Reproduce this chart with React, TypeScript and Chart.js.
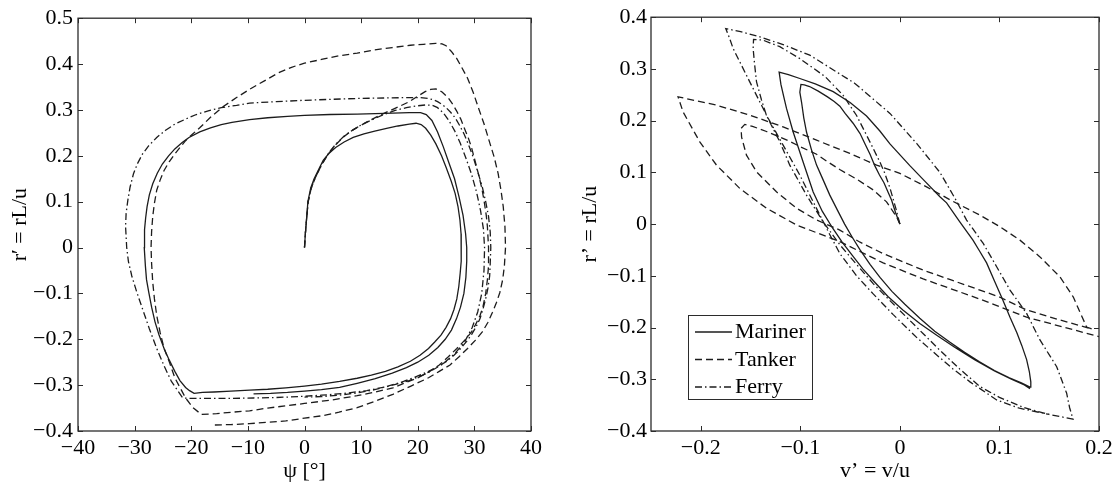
import React, { useEffect, useRef } from "react";
import { Chart, registerables } from "chart.js";

Chart.register(...registerables);

// ---------------- tick values ----------------
const LEFT_X_TICKS = [-40, -30, -20, -10, 0, 10, 20, 30, 40];
const LEFT_Y_TICKS = [-0.4, -0.3, -0.2, -0.1, 0, 0.1, 0.2, 0.3, 0.4, 0.5];
const RIGHT_X_TICKS = [-0.2, -0.1, 0, 0.1, 0.2];
const RIGHT_Y_TICKS = [-0.4, -0.3, -0.2, -0.1, 0, 0.1, 0.2, 0.3, 0.4];

const SERIES_NAMES = ["Mariner", "Tanker", "Ferry"];

// ---------------- left panel: psi [deg] vs r' ----------------
const marinerLeft = [
  [0, 0], [0.15, 0.03], [0.35, 0.06], [0.6, 0.1], [1.1, 0.13], [1.7, 0.15], [2.5, 0.17], [3.3, 0.19], [4.3, 0.205], [5.5, 0.218],
  [7, 0.23], [8.6, 0.24], [10.5, 0.248], [12.4, 0.254], [14.5, 0.26], [16.5, 0.265], [18.5, 0.269], [19.7, 0.271], [20.6, 0.268],
  [21.4, 0.26], [22.3, 0.245], [23.2, 0.226], [24.2, 0.2], [25, 0.175], [25.9, 0.145], [26.6, 0.118], [27.1, 0.09], [27.45, 0.06],
  [27.65, 0.03], [27.7, 0], [27.65, -0.03], [27.5, -0.055], [27.25, -0.085], [26.9, -0.112], [26.4, -0.135], [25.8, -0.155],
  [25, -0.174], [24.1, -0.191], [23, -0.206], [21.9, -0.22], [20.4, -0.235], [18.7, -0.248], [16.5, -0.26], [14.3, -0.27],
  [11.8, -0.278], [9.3, -0.285], [6.2, -0.292], [3, -0.298], [0, -0.302], [-3.3, -0.306], [-6.5, -0.309], [-9.7, -0.311],
  [-13, -0.313], [-16, -0.315], [-18, -0.316], [-19.5, -0.318],
  [-20.3, -0.312], [-21, -0.305], [-22, -0.29], [-22.9, -0.27], [-23.9, -0.245], [-24.8, -0.22], [-25.7, -0.19], [-26.4, -0.162],
  [-27, -0.13], [-27.5, -0.098], [-27.9, -0.07], [-28.1, -0.04], [-28.3, 0], [-28.25, 0.039], [-28.05, 0.065], [-27.8, 0.089],
  [-27.4, 0.115], [-26.8, 0.139], [-26, 0.162], [-25.1, 0.182], [-24, 0.2], [-22.9, 0.215], [-21.6, 0.229], [-20.4, 0.24],
  [-18.5, 0.252], [-16.6, 0.261], [-14.7, 0.268], [-12.8, 0.273], [-9.7, 0.279], [-6.5, 0.283], [-3, 0.286], [0, 0.288],
  [4.5, 0.29], [9.3, 0.291], [12.5, 0.292], [15.6, 0.293], [18.5, 0.294], [20.5, 0.294],
  [21.5, 0.29], [22.5, 0.277], [23.5, 0.252], [24.5, 0.22], [25.5, 0.185], [26.5, 0.15], [27.3, 0.11], [28, 0.07], [28.45, 0.03],
  [28.65, 0], [28.65, -0.03], [28.5, -0.065], [28.15, -0.1], [27.55, -0.13], [26.85, -0.155], [25.95, -0.18], [24.85, -0.2],
  [23.55, -0.218], [21.95, -0.235], [20, -0.25], [18, -0.262], [15.5, -0.274], [12.5, -0.286], [9.3, -0.296], [6.2, -0.305],
  [3, -0.31], [0, -0.313], [-3, -0.316], [-6, -0.318], [-9, -0.319],
];

const tankerLeft = [
  [0, 0], [0.15, 0.03], [0.35, 0.06], [0.65, 0.1], [1.2, 0.13], [2, 0.155], [3, 0.18], [4.2, 0.204], [5.5, 0.224], [6.8, 0.24],
  [8, 0.252], [9.3, 0.262], [11.2, 0.275], [13.1, 0.287], [15, 0.298], [16.8, 0.308], [18.5, 0.318], [20, 0.33], [21.3, 0.34],
  [22.3, 0.345], [23.2, 0.346], [24.3, 0.339], [25.4, 0.326], [26.2, 0.312], [26.9, 0.297], [27.6, 0.28], [28.2, 0.261],
  [28.9, 0.24], [29.5, 0.218], [30.1, 0.19], [30.7, 0.161], [31.3, 0.13], [31.7, 0.103], [32.1, 0.07], [32.3, 0.046], [32.5, 0],
  [32.5, -0.04], [32.3, -0.07], [32, -0.1], [31.5, -0.13], [31, -0.148], [30.3, -0.166], [29.5, -0.184], [28.3, -0.202],
  [26.9, -0.22], [25.4, -0.238], [23.8, -0.256], [22, -0.271], [20, -0.284], [17.8, -0.295], [15.6, -0.306], [12.5, -0.315],
  [9.3, -0.323], [5, -0.332], [0, -0.34], [-3.3, -0.345], [-6.5, -0.35], [-9.7, -0.356], [-12.8, -0.359], [-15.5, -0.362],
  [-18.2, -0.364],
  [-19.7, -0.349], [-21, -0.328], [-22, -0.305], [-22.9, -0.284], [-23.8, -0.252], [-24.8, -0.22], [-25.5, -0.185],
  [-26.1, -0.148], [-26.5, -0.112], [-26.8, -0.076], [-27, -0.035], [-27.1, 0], [-27, 0.035], [-26.8, 0.068], [-26.5, 0.097],
  [-26.1, 0.125], [-25.5, 0.147], [-24.8, 0.168], [-23.9, 0.187], [-22.9, 0.204], [-22, 0.218], [-21, 0.233], [-19.8, 0.247],
  [-18.5, 0.261], [-16.6, 0.284], [-14.5, 0.306], [-12, 0.327], [-9.7, 0.345], [-7, 0.364], [-4.6, 0.381], [-2.3, 0.393],
  [0, 0.402], [3, 0.41], [6.1, 0.418], [9.3, 0.424], [12.4, 0.431], [15.5, 0.436], [18.7, 0.441], [21, 0.443], [23.2, 0.445],
  [24.3, 0.444], [25, 0.44], [25.9, 0.428], [26.9, 0.412], [27.8, 0.392], [28.8, 0.369], [29.8, 0.338], [30.7, 0.305],
  [31.7, 0.27], [32.6, 0.233], [33.5, 0.197], [34.2, 0.161], [34.7, 0.125], [35.1, 0.089], [35.4, 0.045], [35.5, 0],
  [35.3, -0.04], [35, -0.07], [34.5, -0.098], [33.9, -0.12], [33.2, -0.141], [32.4, -0.163], [31.4, -0.184], [30.2, -0.202],
  [28.8, -0.22], [27.3, -0.238], [25.7, -0.256], [23.8, -0.27], [21.9, -0.284], [18.8, -0.302], [15.6, -0.32], [12.5, -0.335],
  [9.3, -0.349], [6.1, -0.359], [3, -0.367], [0, -0.372], [-3.3, -0.378], [-6.5, -0.381], [-9.7, -0.384], [-13, -0.386],
  [-16, -0.387],
];

const ferryLeft = [
  [0, 0], [0.15, 0.03], [0.35, 0.06], [0.65, 0.1], [1.2, 0.13], [2, 0.155], [3, 0.18], [4.2, 0.205], [5.5, 0.225], [7, 0.243],
  [8.5, 0.256], [10, 0.267], [12, 0.279], [14, 0.29], [16, 0.299], [18, 0.305], [20, 0.309], [21.5, 0.311], [22.6, 0.31],
  [23.5, 0.305], [24.5, 0.294], [25.5, 0.277], [26.5, 0.255], [27.5, 0.228], [28.5, 0.195], [29.5, 0.16], [30.4, 0.12],
  [31.1, 0.08], [31.6, 0.04], [31.8, 0], [31.7, -0.05], [31.3, -0.1], [30.6, -0.14], [29.6, -0.175], [28.3, -0.205],
  [26.5, -0.232], [24.3, -0.255], [21.5, -0.275], [18.5, -0.29], [15, -0.302], [11, -0.312], [7, -0.318], [3, -0.322],
  [-1, -0.325], [-5, -0.327], [-9, -0.328], [-13, -0.329], [-17, -0.329], [-20, -0.329], [-21.5, -0.328],
  [-22.5, -0.31], [-23.5, -0.292], [-24.8, -0.258], [-26.1, -0.22], [-27.4, -0.177], [-28.6, -0.134], [-29.6, -0.098],
  [-30.5, -0.062], [-31.1, -0.03], [-31.4, 0], [-31.6, 0.046], [-31.5, 0.075], [-31.2, 0.103], [-30.8, 0.132], [-30.2, 0.161],
  [-29.5, 0.183], [-28.6, 0.204], [-27.5, 0.222], [-26.1, 0.24], [-24.6, 0.255], [-22.9, 0.269], [-21, 0.28], [-19.1, 0.29],
  [-17, 0.298], [-14.7, 0.305], [-12, 0.31], [-9.7, 0.315], [-5, 0.318], [0, 0.321], [4.5, 0.323], [9.3, 0.325], [14, 0.326],
  [18.7, 0.327], [20.5, 0.327], [21.9, 0.325], [22.8, 0.322], [23.5, 0.318], [24.3, 0.312], [25, 0.305], [25.8, 0.295],
  [26.6, 0.283], [27.4, 0.266], [28.2, 0.247], [29, 0.223], [29.8, 0.197], [30.6, 0.165], [31.4, 0.132], [32, 0.1],
  [32.5, 0.068], [32.8, 0.034], [32.9, 0], [32.8, -0.035], [32.7, -0.062], [32.4, -0.088], [32, -0.112], [31.5, -0.135],
  [31, -0.155], [30.3, -0.173], [29.5, -0.19], [28.6, -0.205], [27.6, -0.22], [26.4, -0.235], [25, -0.249], [23.5, -0.26],
  [21.9, -0.27], [19.8, -0.281], [17.5, -0.292], [15, -0.301], [12.4, -0.31], [9.3, -0.317], [6.1, -0.322], [3, -0.325],
  [0, -0.326],
];

// ---------------- right panel: v' vs r' ----------------
const marinerRight = [
  [0, 0], [-0.0043, 0.022], [-0.0083, 0.046], [-0.0115, 0.06], [-0.016, 0.08], [-0.0205, 0.095], [-0.025, 0.112],
  [-0.03, 0.135], [-0.035, 0.155], [-0.04, 0.175], [-0.047, 0.195], [-0.055, 0.214], [-0.0603, 0.228], [-0.066, 0.237],
  [-0.0727, 0.246], [-0.082, 0.257], [-0.0907, 0.266], [-0.096, 0.269], [-0.0994, 0.27],
  [-0.1005, 0.255], [-0.0988, 0.236], [-0.0965, 0.205], [-0.0938, 0.178], [-0.089, 0.145], [-0.0837, 0.114], [-0.077, 0.085],
  [-0.0704, 0.056], [-0.063, 0.028], [-0.0555, 0.0], [-0.048, -0.025], [-0.04, -0.05], [-0.03, -0.078], [-0.02, -0.103],
  [-0.008, -0.13], [0.005, -0.155], [0.02, -0.182], [0.035, -0.207], [0.05, -0.228], [0.065, -0.248], [0.08, -0.266],
  [0.095, -0.283], [0.11, -0.297], [0.122, -0.307], [0.1307, -0.315],
  [0.1315, -0.305], [0.13, -0.285], [0.1273, -0.262], [0.1225, -0.235], [0.1175, -0.21], [0.1106, -0.18], [0.1035, -0.147],
  [0.095, -0.11], [0.0871, -0.075], [0.08, -0.052], [0.0734, -0.031], [0.06, 0.005], [0.0469, 0.041], [0.0402, 0.053],
  [0.025, 0.083], [0.01, 0.113], [-0.01, 0.155], [-0.0201, 0.18], [-0.0335, 0.209], [-0.05, 0.235], [-0.067, 0.256],
  [-0.085, 0.271], [-0.1005, 0.2815], [-0.112, 0.289], [-0.1213, 0.294],
  [-0.1195, 0.27], [-0.1165, 0.245], [-0.1139, 0.2236], [-0.1072, 0.178], [-0.0972, 0.12], [-0.0871, 0.062], [-0.078, 0.025],
  [-0.0675, -0.008], [-0.058, -0.035], [-0.048, -0.06], [-0.037, -0.087], [-0.025, -0.113], [-0.012, -0.14], [0.003, -0.166],
  [0.02, -0.192], [0.037, -0.215], [0.055, -0.238], [0.075, -0.262], [0.095, -0.284], [0.112, -0.3], [0.125, -0.311],
  [0.1307, -0.318],
];

const tankerRight = [
  [0, 0], [-0.0033, 0.014], [-0.0134, 0.043], [-0.0268, 0.066], [-0.0435, 0.087], [-0.06, 0.105], [-0.0737, 0.122],
  [-0.0837, 0.135], [-0.1005, 0.15], [-0.1106, 0.16], [-0.134, 0.179], [-0.148, 0.189], [-0.1558, 0.1927],
  [-0.1595, 0.185], [-0.159, 0.168], [-0.1541, 0.1333], [-0.144, 0.101], [-0.124, 0.0624], [-0.1038, 0.0306],
  [-0.0837, 0.008], [-0.0603, -0.0116], [-0.04, -0.035], [-0.0168, -0.057],
  [0.0234, -0.089], [0.05, -0.107], [0.0804, -0.1275], [0.1, -0.141], [0.1273, -0.166], [0.16, -0.185], [0.193, -0.203],
  [0.1876, -0.199], [0.1808, -0.17], [0.1742, -0.141], [0.1608, -0.1021], [0.1407, -0.0634], [0.1206, -0.031],
  [0.1005, -0.005], [0.0804, 0.0174], [0.0536, 0.0436], [0.0268, 0.072], [0, 0.098], [-0.0234, 0.114], [-0.0503, 0.1366],
  [-0.0837, 0.1623], [-0.1173, 0.188], [-0.1508, 0.2106], [-0.1842, 0.23], [-0.2228, 0.246],
  [-0.2178, 0.217], [-0.201, 0.159], [-0.1842, 0.114], [-0.1608, 0.069], [-0.134, 0.0306], [-0.1038, -0.0017],
  [-0.0603, -0.034], [-0.0168, -0.075], [0.0234, -0.106], [0.0804, -0.145], [0.1273, -0.18], [0.201, -0.218], [0.23, -0.232],
];

const ferryRight = [
  [0, 0], [-0.004, 0.03], [-0.01, 0.07], [-0.0155, 0.1], [-0.0201, 0.12], [-0.027, 0.147], [-0.0335, 0.172],
  [-0.0435, 0.21], [-0.057, 0.249], [-0.075, 0.285], [-0.1005, 0.32], [-0.1206, 0.343], [-0.138, 0.356],
  [-0.147, 0.357],
  [-0.1474, 0.3395], [-0.146, 0.31], [-0.144, 0.275], [-0.139, 0.24], [-0.134, 0.21], [-0.1206, 0.159], [-0.1106, 0.114],
  [-0.0938, 0.056], [-0.0771, 0.0045], [-0.0603, -0.04], [-0.0435, -0.078], [-0.0268, -0.115], [-0.01, -0.148],
  [0.0067, -0.18], [0.0235, -0.212], [0.0402, -0.244], [0.06, -0.28], [0.0804, -0.314], [0.1, -0.335], [0.125, -0.355],
  [0.15, -0.368], [0.1739, -0.377],
  [0.1705, -0.355], [0.1675, -0.327], [0.1575, -0.2757], [0.1407, -0.224], [0.1273, -0.1726], [0.1106, -0.1275],
  [0.0972, -0.0824], [0.0837, -0.0373], [0.067, 0.0077], [0.0553, 0.05], [0.0402, 0.1], [0.0168, 0.156], [-0.01, 0.214],
  [-0.0452, 0.272], [-0.0905, 0.3266], [-0.1173, 0.347], [-0.1407, 0.362], [-0.16, 0.372], [-0.1749, 0.378],
  [-0.1712, 0.36], [-0.1675, 0.3395], [-0.1508, 0.275], [-0.134, 0.2106], [-0.1173, 0.1527], [-0.1005, 0.0947],
  [-0.0804, 0.0174], [-0.0705, -0.02], [-0.0603, -0.057], [-0.0435, -0.1], [-0.0268, -0.135], [-0.0067, -0.175],
  [0.0173, -0.22], [0.04, -0.258], [0.0533, -0.28], [0.0704, -0.305], [0.0972, -0.34], [0.12, -0.356], [0.15, -0.368],
];

// ---------------- styling ----------------
const FONT_FAMILY = '"Liberation Serif", "Times New Roman", Times, serif';
const FONT_SIZE = 22;
const LINE_COLOR = "#1c1c1c";
const FRAME_COLOR = "#2b2b2b";
const DASHES = [[], [7, 4], [7, 3, 1.5, 3]];

function fmt(v: number, digits: number): string {
  if (Math.abs(v) < 1e-9) return "0";
  const s = Math.abs(v).toFixed(digits);
  return (v < 0 ? "\u2212" : "") + s;
}

function makeDatasets(series: number[][][]) {
  return series.map((pts, i) => ({
    label: SERIES_NAMES[i],
    data: pts.map(([x, y]) => ({ x, y })),
    showLine: true,
    pointRadius: 0,
    pointHoverRadius: 0,
    borderColor: LINE_COLOR,
    backgroundColor: LINE_COLOR,
    borderWidth: 1.3,
    borderDash: DASHES[i],
    fill: false,
    tension: 0,
  }));
}

const framePlugin = {
  id: "frameTicks",
  afterDatasetsDraw(chart: any) {
    const { ctx, chartArea: a, scales } = chart;
    const len = 5;
    ctx.save();
    ctx.strokeStyle = FRAME_COLOR;
    ctx.lineWidth = 1.3;
    ctx.setLineDash([]);
    ctx.strokeRect(a.left, a.top, a.right - a.left, a.bottom - a.top);
    ctx.lineWidth = 1;
    ctx.beginPath();
    scales.x.ticks.forEach((t: any) => {
      const p = Math.round(scales.x.getPixelForValue(t.value)) + 0.5;
      ctx.moveTo(p, a.bottom);
      ctx.lineTo(p, a.bottom - len);
      ctx.moveTo(p, a.top);
      ctx.lineTo(p, a.top + len);
    });
    scales.y.ticks.forEach((t: any) => {
      const p = Math.round(scales.y.getPixelForValue(t.value)) + 0.5;
      ctx.moveTo(a.left, p);
      ctx.lineTo(a.left + len, p);
      ctx.moveTo(a.right, p);
      ctx.lineTo(a.right - len, p);
    });
    ctx.stroke();
    ctx.restore();
  },
};

const legendPlugin = {
  id: "insideLegend",
  afterDraw(chart: any) {
    const { ctx, chartArea: a } = chart;
    const left = a.left + 37;
    const bottom = a.bottom - 32;
    const w = 124;
    const h = 84;
    const top = bottom - h;
    ctx.save();
    ctx.fillStyle = "#ffffff";
    ctx.fillRect(left, top, w, h);
    ctx.strokeStyle = FRAME_COLOR;
    ctx.lineWidth = 1;
    ctx.setLineDash([]);
    ctx.strokeRect(left + 0.5, top + 0.5, w, h);
    ctx.font = `22px ${FONT_FAMILY}`;
    ctx.textBaseline = "middle";
    ctx.textAlign = "left";
    chart.data.datasets.forEach((ds: any, i: number) => {
      const y = top + 16.5 + i * 27.5;
      ctx.strokeStyle = LINE_COLOR;
      ctx.lineWidth = 1.3;
      ctx.setLineDash(ds.borderDash || []);
      ctx.beginPath();
      ctx.moveTo(left + 7, y + 0.5);
      ctx.lineTo(left + 44, y + 0.5);
      ctx.stroke();
      ctx.setLineDash([]);
      ctx.fillStyle = "#000";
      ctx.fillText(ds.label, left + 47, y + 1);
    });
    ctx.restore();
  },
};

function axisOptions(opts: {
  min: number; max: number; ticks: number[]; digits: number; size: number; isX: boolean;
  title: string; titlePad: any; tickPad: number;
}) {
  return {
    type: "linear",
    min: opts.min,
    max: opts.max,
    afterBuildTicks: (s: any) => {
      s.ticks = opts.ticks.map((value) => ({ value }));
    },
    afterFit: (s: any) => {
      if (opts.isX) s.height = opts.size;
      else s.width = opts.size;
    },
    grid: { display: false, drawTicks: false },
    border: { display: false },
    ticks: {
      autoSkip: false,
      maxRotation: 0,
      minRotation: 0,
      padding: opts.tickPad,
      color: "#000",
      font: { family: FONT_FAMILY, size: FONT_SIZE },
      callback: (v: any) => fmt(Number(v), opts.digits),
    },
    title: {
      display: true,
      text: opts.title,
      color: "#000",
      font: { family: FONT_FAMILY, size: FONT_SIZE },
      padding: opts.titlePad,
    },
  };
}

function buildLeft() {
  return {
    type: "scatter",
    data: { datasets: makeDatasets([marinerLeft, tankerLeft, ferryLeft]) },
    options: {
      responsive: false,
      animation: false,
      devicePixelRatio: 1,
      layout: { padding: { left: 0, top: 17, right: 29, bottom: 0 } },
      plugins: { legend: { display: false }, tooltip: { enabled: false } },
      events: [],
      scales: {
        x: axisOptions({ min: -40, max: 40, ticks: LEFT_X_TICKS, digits: 0, size: 55, isX: true,
          title: "\u03C8 [\u00B0]", titlePad: { top: 0, bottom: 1.8 }, tickPad: 4 }),
        y: axisOptions({ min: -0.4, max: 0.5, ticks: LEFT_Y_TICKS, digits: 1, size: 78, isX: false,
          title: "r\u2032 = rL/u", titlePad: { top: 6.8, bottom: 0 }, tickPad: 5 }),
      },
    },
    plugins: [framePlugin],
  };
}

function buildRight() {
  return {
    type: "scatter",
    data: { datasets: makeDatasets([marinerRight, tankerRight, ferryRight]) },
    options: {
      responsive: false,
      animation: false,
      devicePixelRatio: 1,
      layout: { padding: { left: 0, top: 17, right: 21, bottom: 0 } },
      plugins: { legend: { display: false }, tooltip: { enabled: false } },
      events: [],
      scales: {
        x: axisOptions({ min: -0.25, max: 0.2, ticks: RIGHT_X_TICKS, digits: 1, size: 55, isX: true,
          title: "v\u2019 = v/u", titlePad: { top: 0, bottom: 1.8 }, tickPad: 4 }),
        y: axisOptions({ min: -0.4, max: 0.4, ticks: RIGHT_Y_TICKS, digits: 1, size: 91, isX: false,
          title: "r\u2019 = rL/u", titlePad: { top: 16.8, bottom: 0 }, tickPad: 4 }),
      },
    },
    plugins: [framePlugin, legendPlugin],
  };
}

export default function App() {
  const leftRef = useRef<HTMLCanvasElement | null>(null);
  const rightRef = useRef<HTMLCanvasElement | null>(null);

  useEffect(() => {
    const charts: Chart[] = [];
    if (leftRef.current) charts.push(new Chart(leftRef.current, buildLeft() as any));
    if (rightRef.current) charts.push(new Chart(rightRef.current, buildRight() as any));
    return () => charts.forEach((c) => c.destroy());
  }, []);

  return (
    <div style={{ position: "fixed", left: 0, top: 0, width: 1120, height: 486, background: "#fff", overflow: "hidden" }}>
      <canvas ref={leftRef} width={560} height={486}
        style={{ position: "absolute", left: 0, top: 0, width: 560, height: 486 }} />
      <canvas ref={rightRef} width={560} height={486}
        style={{ position: "absolute", left: 560, top: 0, width: 560, height: 486 }} />
    </div>
  );
}
